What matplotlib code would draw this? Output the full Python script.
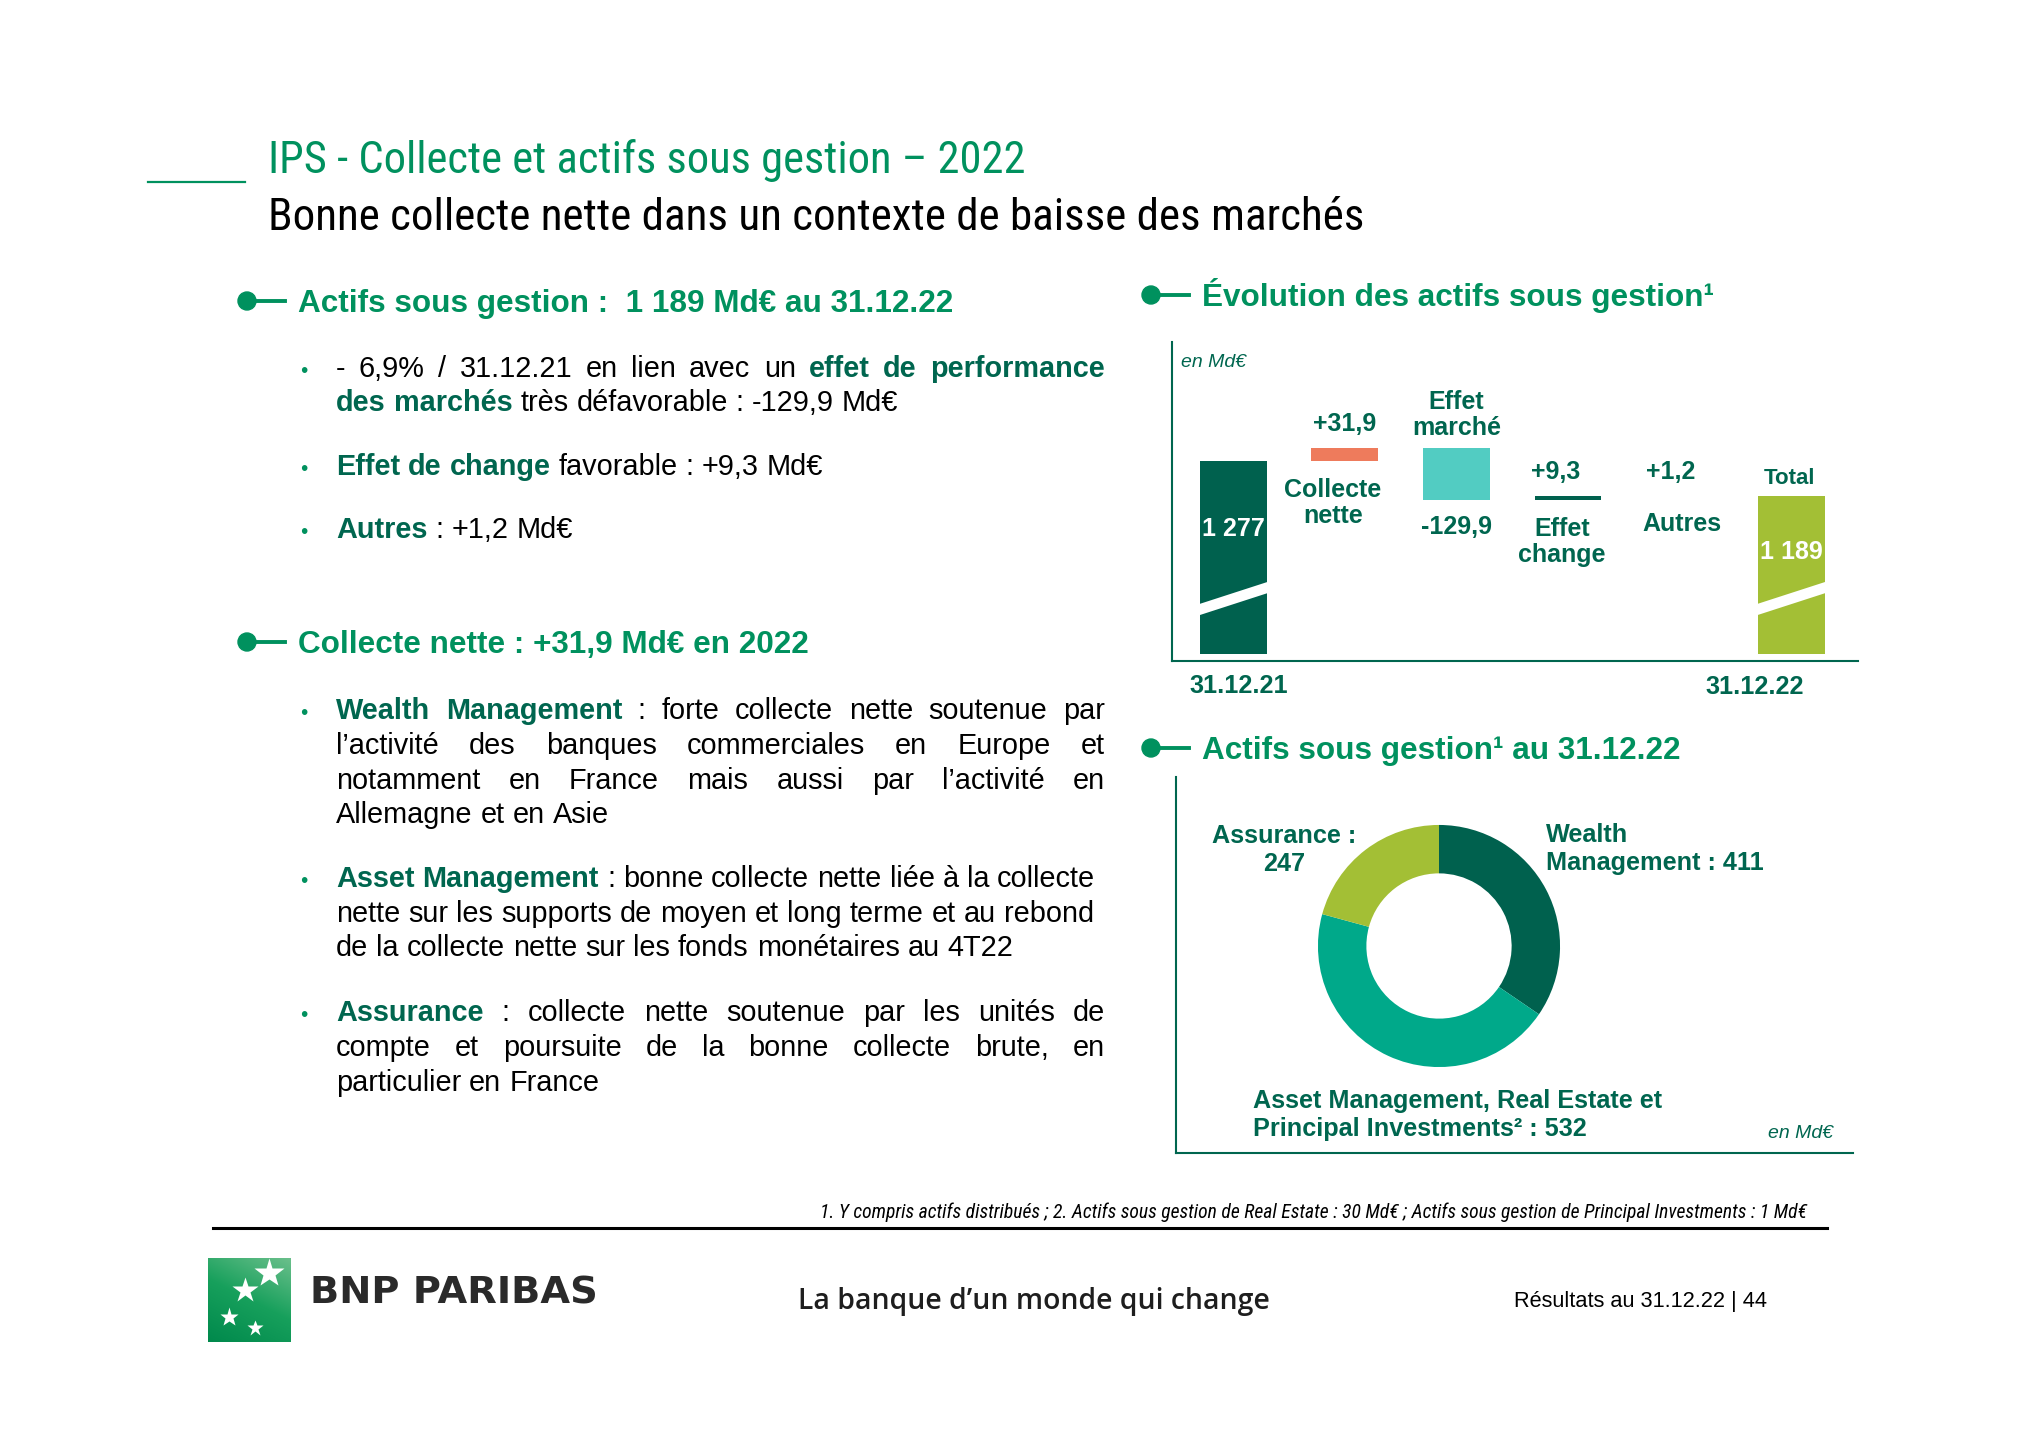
import matplotlib
matplotlib.use("Agg")
import matplotlib.pyplot as plt
import matplotlib.font_manager as fm
from matplotlib.font_manager import FontProperties
from matplotlib.transforms import IdentityTransform
from matplotlib.patches import Polygon, Circle
from matplotlib.lines import Line2D
import numpy as np

# ---- data ----
steps = ["31.12.21", "Collecte nette", "Effet marché", "Effet change", "Autres", "Total"]
aum_start = 1277
deltas = [31.9, -129.9, 9.3, 1.2]
aum_end = 1189
delta_labels = ["+31,9", "-129,9", "+9,3", "+1,2"]
step_names = ["Collecte\nnette", "Effet\nmarché", "Effet\nchange", "Autres"]

segments = ["Wealth Management", "Asset Management, Real Estate et Principal Investments", "Assurance"]
segment_aum = [411, 532, 247]

# ---- style ----
W, H = 2040, 1442
GREEN = "#00915E"
DARK = "#00664F"
BAR_DARK = "#00614E"
CORAL = "#EE7B5C"
CYAN = "#52CCC2"
LIME = "#A3BF35"
TEAL = "#00A98A"

names = {f.name for f in fm.fontManager.ttflist}
SANS = "Liberation Sans" if "Liberation Sans" in names else "DejaVu Sans"
TAG = "Open Sans" if "Open Sans" in names else SANS


def find_narrow(italic):
    prefs = ["Liberation Sans Narrow", "Arial Narrow", "Roboto Condensed", "Noto Sans",
             "Open Sans", "Roboto", "DejaVu Sans"]
    out = []
    for f in fm.fontManager.ttflist:
        narrow = (str(f.stretch) in ("condensed", "semi-condensed") or "Narrow" in f.name
                  or "Condensed" in f.name)
        if not narrow or (f.style != "normal") != italic:
            continue
        if f.weight not in (400, "normal", "regular", "book"):
            continue
        out.append(f)
    out.sort(key=lambda f: (prefs.index(f.name) if f.name in prefs else 99,
                            0 if str(f.stretch) == "condensed" else 1))
    return out[0].fname if out else None


fig = plt.figure(figsize=(W / 100, H / 100), dpi=100)
fig.patch.set_facecolor("white")
renderer = fig.canvas.get_renderer()
PX = IdentityTransform()


def T(x, y, s, **kw):
    if "fontproperties" not in kw:
        kw.setdefault("family", SANS)
    return fig.text(x, H - y, s, transform=PX, **kw)


def width(t):
    return t.get_window_extent(renderer).width


def fit(t, target, cap):
    t.set_fontsize(min(cap, t.get_fontsize() * target / width(t)))


def narrow_fp(italic, size):
    path = find_narrow(italic)
    if path:
        return FontProperties(fname=path, size=size)
    return FontProperties(family=SANS, style="italic" if italic else "normal", size=size)


def hline(x0, x1, y, color, lw):
    fig.add_artist(Line2D([x0, x1], [H - y, H - y], transform=PX, color=color, lw=lw))


def vline(x, y0, y1, color, lw):
    fig.add_artist(Line2D([x, x], [H - y0, H - y1], transform=PX, color=color, lw=lw))


def px_axes(l, t, r, b):
    return fig.add_axes([l / W, 1 - b / H, (r - l) / W, (b - t) / H])


# ---- title ----
hline(148, 245, 182, GREEN, 1.6)
t = T(268, 173, "IPS - Collecte et actifs sous gestion – 2022",
      fontproperties=narrow_fp(False, 30), color=GREEN, va="baseline")
fit(t, 757, 35)
t = T(268, 230, "Bonne collecte nette dans un contexte de baisse des marchés",
      fontproperties=narrow_fp(False, 28), color="black", va="baseline")
fit(t, 1093, 33)


def header(x, y, s):
    fig.add_artist(Circle((x, H - y), 9, transform=PX, color=GREEN))
    hline(x, x + 38, y, GREEN, 2.8)
    T(x + 51, y + 11, s, fontsize=22.7, weight="bold", color=GREEN, va="baseline")


header(247, 301, "Actifs sous gestion :  1 189 Md€ au 31.12.22")
header(247, 642, "Collecte nette : +31,9 Md€ en 2022")
header(1151, 295, "Évolution des actifs sous gestion¹")
header(1151, 748, "Actifs sous gestion¹ au 31.12.22")

# ---- body text ----
BODY = 20.8
a = T(0, 0, "n n", fontsize=BODY)
b = T(0, 0, "nn", fontsize=BODY)
SPACE = width(a) - width(b)
a.remove()
b.remove()
TX, RIGHT = 336, 1105

lines = [
    (377, True, True, [("- 6,9% / 31.12.21 en lien avec un", False), ("effet de performance", True)]),
    (411, False, False, [("des marchés", True), ("très défavorable : -129,9 Md€", False)]),
    (475, True, False, [("Effet de change", True), ("favorable : +9,3 Md€", False)]),
    (538, True, False, [("Autres", True), (": +1,2 Md€", False)]),
    (719, True, True, [("Wealth Management", True), (": forte collecte nette soutenue par", False)]),
    (754, False, True, [("l’activité des banques commerciales en Europe et", False)]),
    (789, False, True, [("notamment en France mais aussi par l’activité en", False)]),
    (823, False, False, [("Allemagne et en Asie", False)]),
    (887, True, False, [("Asset Management", True), (": bonne collecte nette liée à la collecte", False)]),
    (922, False, False, [("nette sur les supports de moyen et long terme et au rebond", False)]),
    (956, False, False, [("de la collecte nette sur les fonds monétaires au 4T22", False)]),
    (1021, True, True, [("Assurance", True), (": collecte nette soutenue par les unités de", False)]),
    (1056, False, True, [("compte et poursuite de la bonne collecte brute, en", False)]),
    (1091, False, False, [("particulier en France", False)]),
]

for y, bullet, justify, parts in lines:
    if bullet:
        T(304, y, "•", fontsize=15, color=GREEN, va="baseline", ha="center")
    words = []
    for txt, bold in parts:
        for w in txt.split():
            words.append(T(TX, y, w, fontsize=BODY, weight="bold" if bold else "normal",
                           color=DARK if bold else "black", va="baseline"))
    ws = [width(t) for t in words]
    gap = (RIGHT - TX - sum(ws)) / (len(ws) - 1) if justify else SPACE
    cx = TX
    for t, w in zip(words, ws):
        t.set_position((cx, H - y))
        cx += w + gap

# ---- waterfall ----
ax = px_axes(1172, 342, 1858, 661)
ylo = 777
ax.set_xlim(-0.55, 5.6)
ax.set_ylim(ylo, ylo + (661 - 342) * 2.5)
for s in ["top", "right"]:
    ax.spines[s].set_visible(False)
for s in ["left", "bottom"]:
    ax.spines[s].set_color(DARK)
    ax.spines[s].set_linewidth(1.5)
ax.set_xticks([])
ax.set_yticks([])
ax.patch.set_alpha(0)

base = 795
bw = 0.6
cum = aum_start
tops, bots = [], []
for d in deltas:
    tops.append(max(cum, cum + d))
    bots.append(min(cum, cum + d))
    cum += d
xs = np.arange(len(steps))
ax.bar(xs[0], aum_start - base, bottom=base, width=bw, color=BAR_DARK)
ax.bar(xs[1:5], np.array(tops) - np.array(bots), bottom=bots, width=bw,
       color=[CORAL, CYAN, BAR_DARK, CORAL])
ax.bar(xs[5], aum_end - base, bottom=base, width=bw, color=LIME)

# break marks
for x in (xs[0], xs[5]):
    x0, x1 = x - bw / 2 - 0.01, x + bw / 2 + 0.01
    yl, yr, h = base + 110, base + 166, 14
    ax.add_patch(Polygon([(x0, yl - h), (x1, yr - h), (x1, yr + h), (x0, yl + h)],
                         closed=True, color="white", lw=0))

lab = dict(ha="center", va="center", fontsize=18, weight="bold", color=DARK,
           textcoords="offset pixels", family=SANS, linespacing=1.1)
ax.annotate(f"{aum_start:,}".replace(",", " "), (xs[0], aum_start), xytext=(0, -68),
            **{**lab, "color": "white"})
ax.annotate(f"{aum_end:,}".replace(",", " "), (xs[5], aum_end), xytext=(0, -56),
            **{**lab, "color": "white"})
top_dx = [0, 0, -12, -9]
name_dx = [-12, 0, -6, 2]
for i, (d, dl, nm) in enumerate(zip(deltas, delta_labels, step_names)):
    x = xs[i + 1]
    if i == 1:
        ax.annotate(nm, (x, tops[i]), xytext=(name_dx[i], 33), **lab)
        ax.annotate(dl, (x, bots[i]), xytext=(top_dx[i], -27), **lab)
    else:
        ax.annotate(dl, (x, tops[i]), xytext=(top_dx[i], 24), **lab)
        ax.annotate(nm, (x, bots[i]), xytext=(name_dx[i], -42 if "\n" in nm else -28), **lab)
ax.annotate("Total", (xs[5], aum_end), xytext=(-2, 18), **{**lab, "fontsize": 16})

T(1181, 367, "en Md€", fontsize=14, style="italic", color=DARK, va="baseline")
T(1239, 686, steps[0], fontsize=18.2, weight="bold", color=DARK, ha="center", va="center")
T(1755, 687, "31.12.22", fontsize=18.2, weight="bold", color=DARK, ha="center", va="center")

# ---- donut ----
vline(1176, 777, 1153, DARK, 1.5)
hline(1176, 1853, 1153, DARK, 1.5)
ax2 = px_axes(1439 - 130, 946 - 130, 1439 + 130, 946 + 130)
ax2.pie(segment_aum, colors=[BAR_DARK, TEAL, LIME], startangle=90, counterclock=False,
        radius=1, wedgeprops=dict(width=0.4, linewidth=0))
ax2.set_xlim(-1.074, 1.074)
ax2.set_ylim(-1.074, 1.074)
ax2.set_aspect("equal")
ax2.axis("off")

dl = dict(fontsize=18.2, weight="bold", color=DARK, va="center", linespacing=1.25)
T(1284, 850, f"Assurance :\n{segment_aum[2]}", ha="center", **dl)
T(1546, 849, f"Wealth\nManagement : {segment_aum[0]}", ha="left", **dl)
T(1253, 1115, f"Asset Management, Real Estate et\nPrincipal Investments² : {segment_aum[1]}",
  ha="left", **dl)
T(1801, 1134, "en Md€", fontsize=14, style="italic", color=DARK, ha="center", va="center")

# ---- footer ----
t = T(1807, 1218, "1. Y compris actifs distribués ; 2. Actifs sous gestion de Real Estate : 30 Md€ ; "
      "Actifs sous gestion de Principal Investments : 1 Md€", fontproperties=narrow_fp(True, 12),
      ha="right", va="baseline")
fit(t, 985, 14.5)
hline(213, 1827, 1228, "black", 2.2)

lax = px_axes(208, 1258, 291, 1342)
g = np.linspace(0, 1, 100)
grad = np.clip(0.55 * g[:, None] + 0.45 * g[None, ::-1] * 0.6, 0, 1)
lax.imshow(grad, cmap=matplotlib.colors.LinearSegmentedColormap.from_list(
    "bnp", ["#6cc08c", "#17a05c", "#00894c"]), extent=(0, 1, 0, 1), aspect="auto")
for (sx, sy, sz) in [(0.74, 0.82, 22), (0.45, 0.62, 19), (0.25, 0.3, 14), (0.57, 0.17, 12)]:
    lax.plot(sx, sy, marker="*", ms=sz, color="white", mec="none")
lax.set_xlim(0, 1)
lax.set_ylim(0, 1)
lax.axis("off")

T(310, 1303, "BNP PARIBAS", family="DejaVu Sans", fontsize=27.6, weight="bold",
  color="#2a2a2a", va="baseline")
T(1034, 1301, "La banque d’un monde qui change", family=TAG, fontsize=20.4, weight="semibold",
  color="#1e1e1e", ha="center", va="center")
T(1767, 1301, "Résultats au 31.12.22 | 44", fontsize=15.7, color="black", ha="right",
  va="center")

fig.savefig("out.png", dpi=100, facecolor="white")
